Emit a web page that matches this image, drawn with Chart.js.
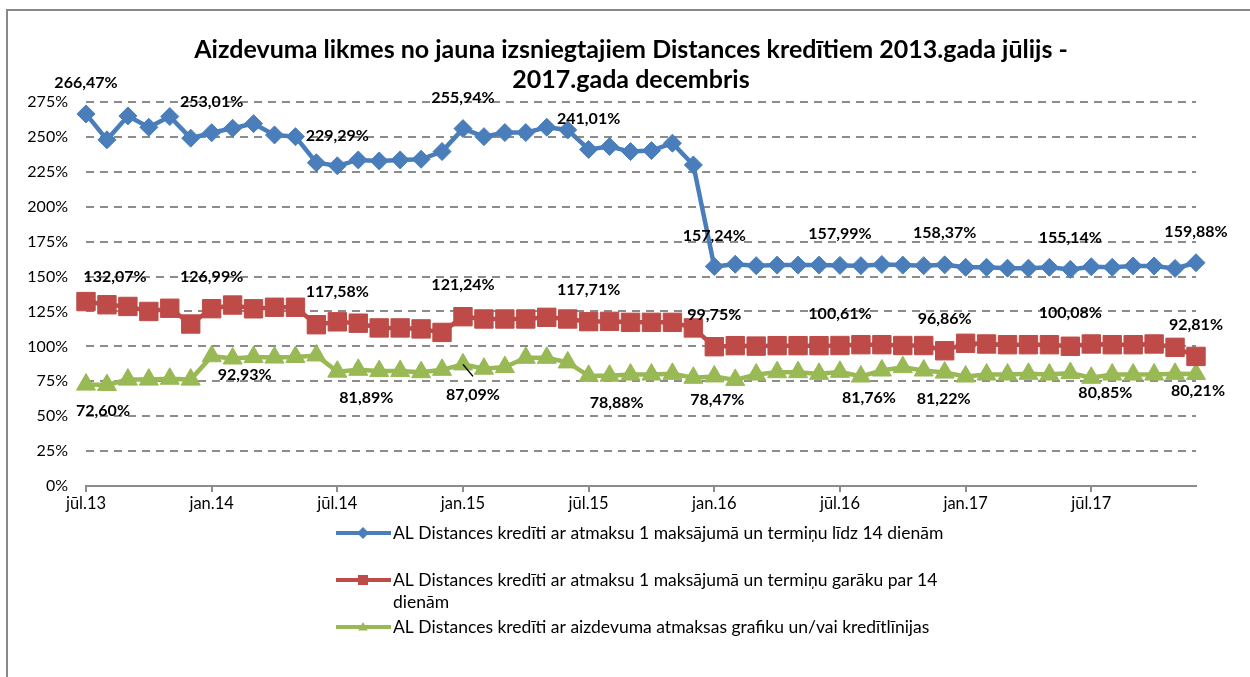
<!DOCTYPE html>
<html>
<head>
<meta charset="utf-8">
<title>Aizdevuma likmes</title>
<script src="https://cdn.jsdelivr.net/npm/chart.js@4.4.1/dist/chart.umd.min.js"></script>
<style>
    html, body { margin: 0; padding: 0; background: #fff; }
    #wrap { width: 1250px; height: 677px; }
</style>
</head>
<body>
<div id="wrap"><canvas id="rateChart" width="1250" height="677"></canvas></div>
<script>
// Months Jul 2013 - Dec 2017
const months = [
    'jūl.13', 'aug.13', 'sep.13', 'okt.13', 'nov.13', 'dec.13',
    'jan.14', 'feb.14', 'mar.14', 'apr.14', 'mai.14', 'jūn.14',
    'jūl.14', 'aug.14', 'sep.14', 'okt.14', 'nov.14', 'dec.14',
    'jan.15', 'feb.15', 'mar.15', 'apr.15', 'mai.15', 'jūn.15',
    'jūl.15', 'aug.15', 'sep.15', 'okt.15', 'nov.15', 'dec.15',
    'jan.16', 'feb.16', 'mar.16', 'apr.16', 'mai.16', 'jūn.16',
    'jūl.16', 'aug.16', 'sep.16', 'okt.16', 'nov.16', 'dec.16',
    'jan.17', 'feb.17', 'mar.17', 'apr.17', 'mai.17', 'jūn.17',
    'jūl.17', 'aug.17', 'sep.17', 'okt.17', 'nov.17', 'dec.17'
];

// Rates, %
const shortTerm = [
    266.47, 247.9, 265.0, 256.9, 264.6, 249.1,
    253.01, 256.2, 259.5, 251.4, 250.2, 231.5,
    229.29, 233.5, 232.8, 233.5, 234.0, 239.5,
    255.94, 250.2, 253.1, 253.1, 256.9, 255.0,
    241.01, 243.1, 239.5, 240.2, 245.5, 229.9,
    157.24, 158.8, 157.8, 158.2, 158.2, 158.2,
    157.99, 157.8, 158.6, 158.2, 157.8, 158.37,
    156.6, 156.6, 156.0, 156.0, 156.6, 155.14,
    157.0, 156.6, 157.6, 157.6, 155.8, 159.88
];
const longTerm = [
    132.07, 129.8, 128.6, 125.0, 127.3, 116.0,
    126.99, 129.6, 126.9, 128.0, 128.0, 115.5,
    117.58, 116.6, 113.2, 113.2, 112.5, 110.0,
    121.24, 119.6, 119.6, 119.6, 120.8, 119.6,
    117.71, 117.9, 117.2, 117.2, 117.2, 113.2,
    99.75, 100.5, 100.2, 100.5, 100.5, 100.5,
    100.61, 101.2, 101.2, 100.6, 100.6, 96.86,
    102.2, 101.7, 101.2, 101.2, 101.2, 100.08,
    101.7, 101.2, 101.2, 101.7, 99.3, 92.81
];
const instalment = [
    72.60, 72.3, 76.2, 76.2, 76.8, 76.2,
    92.93, 91.3, 92.4, 92.0, 92.4, 93.5,
    81.89, 83.2, 82.3, 82.3, 81.5, 83.2,
    87.09, 84.0, 85.2, 91.8, 91.8, 88.5,
    78.88, 79.0, 79.8, 79.8, 80.3, 77.5,
    78.47, 76.0, 79.8, 81.5, 81.5, 80.3,
    81.76, 78.4, 82.7, 85.1, 82.7, 81.22,
    78.4, 79.8, 79.8, 80.3, 79.8, 80.85,
    77.5, 79.8, 79.8, 79.8, 80.3, 80.21
];

const seriesNames = [
    'AL Distances kredīti ar atmaksu 1 maksājumā un termiņu līdz 14 dienām',
    'AL Distances kredīti ar atmaksu 1 maksājumā un termiņu garāku par 14 dienām',
    'AL Distances kredīti ar aizdevuma atmaksas grafiku un/vai kredītlīnijas'
];
const chartTitle = [
    'Aizdevuma likmes no jauna izsniegtajiem Distances kredītiem 2013.gada jūlijs -',
    '2017.gada decembris'
];
const yMax = 275;
const yStep = 25;

const FONT = 'Lato, Carlito, "Open Sans", sans-serif';
const colors = ['#4A7EBB', '#BE4B48', '#98B954'];
const markers = ['rectRot', 'rect', 'triangle'];

// which points carry a value label: [index, dx, dy, leader line]
const labelSpots = [
    [[0, 0, -31], [6, 0, -31], [12, 0, -30], [18, 0, -31], [24, 0, -31],
     [30, 0, -31], [36, 0, -32], [41, 0, -32], [47, 0, -32], [53, 0, -31]],
    [[0, 29, -25], [6, 0, -32], [12, 0, -30], [18, 0, -32], [24, 0, -32],
     [30, 0, -32], [36, 0, -32], [41, 0, -32], [47, 0, -33], [53, 0, -32]],
    [[0, 17, 26], [6, 33, 19], [12, 29, 26], [18, 10, 30, true], [24, 28, 27],
     [30, 3, 23], [36, 29, 26], [41, -1, 26], [47, 35, 20], [53, 2, 17]]
];

// legend text as it wraps in the original
const legendLines = [
    [seriesNames[0]],
    ['AL Distances kredīti ar atmaksu 1 maksājumā un termiņu garāku par 14', 'dienām'],
    [seriesNames[2]]
];

function formatPct(v) {
    return v.toFixed(2).replace('.', ',') + '%';
}

function drawMarker(ctx, type, x, y, r) {
    ctx.beginPath();
    if (type === 'rectRot') {
        ctx.moveTo(x - r, y); ctx.lineTo(x, y - r); ctx.lineTo(x + r, y); ctx.lineTo(x, y + r);
    } else if (type === 'rect') {
        ctx.rect(x - r, y - r, 2 * r, 2 * r);
    } else {
        ctx.moveTo(x, y - r); ctx.lineTo(x + r * 0.95, y + r * 0.7); ctx.lineTo(x - r * 0.95, y + r * 0.7);
    }
    ctx.closePath();
    ctx.fill();
}

const frameAndText = {
    id: 'frameAndText',
    beforeDraw(chart) {
        const ctx = chart.ctx;
        ctx.save();
        ctx.fillStyle = '#fff';
        ctx.fillRect(0, 0, chart.width, chart.height);
        ctx.strokeStyle = '#888';
        ctx.lineWidth = 2;
        ctx.strokeRect(7, 10, chart.width + 20, chart.height + 20);
        ctx.restore();
    },
    afterDatasetsDraw(chart) {
        const ctx = chart.ctx;
        ctx.save();
        ctx.font = 'bold 16px ' + FONT;
        ctx.fillStyle = '#000';
        ctx.textAlign = 'center';
        ctx.textBaseline = 'middle';
        labelSpots.forEach((spots, d) => {
            const meta = chart.getDatasetMeta(d);
            const values = chart.data.datasets[d].data;
            spots.forEach(([i, dx, dy, leader]) => {
                const p = meta.data[i];
                if (leader) {
                    ctx.strokeStyle = '#000';
                    ctx.lineWidth = 1.5;
                    ctx.beginPath();
                    ctx.moveTo(p.x, p.y);
                    ctx.lineTo(p.x + dx, p.y + dy - 18);
                    ctx.stroke();
                }
                ctx.fillText(formatPct(values[i]), p.x + dx, p.y + dy);
            });
        });
        ctx.restore();
    },
    afterDraw(chart) {
        const ctx = chart.ctx;
        ctx.save();
        // title
        ctx.fillStyle = '#000';
        ctx.textAlign = 'center';
        ctx.textBaseline = 'middle';
        ctx.font = 'bold 25px ' + FONT;
        ctx.fillText(chartTitle[0], 631, 50);
        ctx.fillText(chartTitle[1], 631, 80);

        // legend
        const rowY = [533, 580, 627];
        ctx.font = '17.5px ' + FONT;
        ctx.textAlign = 'left';
        legendLines.forEach((lines, k) => {
            const y = rowY[k];
            ctx.strokeStyle = colors[k];
            ctx.lineWidth = 4;
            ctx.beginPath();
            ctx.moveTo(336, y);
            ctx.lineTo(391, y);
            ctx.stroke();
            ctx.fillStyle = colors[k];
            drawMarker(ctx, markers[k], 363, y, k === 0 ? 6 : 5);
            ctx.fillStyle = '#000';
            lines.forEach((t, j) => ctx.fillText(t, 393, y + j * 22));
        });
        ctx.restore();
    }
};

function makeDataset(k, values, radius) {
    return {
        label: seriesNames[k],
        data: values,
        borderColor: colors[k],
        backgroundColor: colors[k],
        borderWidth: 4.5,
        pointStyle: markers[k],
        pointRadius: radius,
        pointBorderWidth: 1,
        pointBackgroundColor: colors[k],
        pointBorderColor: colors[k],
        tension: 0,
        clip: false
    };
}

function buildChart() {
    const ctx = document.getElementById('rateChart').getContext('2d');
    new Chart(ctx, {
        type: 'line',
        data: {
            labels: months,
            datasets: [
                makeDataset(0, shortTerm, 9),
                makeDataset(1, longTerm, 13),
                makeDataset(2, instalment, 11)
            ]
        },
        options: {
            responsive: false,
            animation: false,
            layout: { padding: { top: 102, right: 54, left: 0, bottom: 0 } },
            plugins: {
                legend: { display: false },
                title: { display: false },
                tooltip: { enabled: false }
            },
            scales: {
                x: {
                    offset: false,
                    grid: {
                        drawOnChartArea: false,
                        drawTicks: true,
                        tickLength: 6,
                        color: '#8c8c8c',
                        lineWidth: 2
                    },
                    border: { display: true, color: '#8c8c8c', width: 2 },
                    ticks: {
                        autoSkip: false,
                        maxRotation: 0,
                        minRotation: 0,
                        padding: 2,
                        color: '#000',
                        font: { family: FONT, size: 16.5 },
                        callback: function (value, index) {
                            return index % 6 === 0 ? this.getLabelForValue(value) : null;
                        }
                    },
                    afterFit: scale => { scale.height = 191; }
                },
                y: {
                    min: 0,
                    max: yMax,
                    grid: { color: '#8c8c8c', lineWidth: 2, drawTicks: false },
                    border: { display: false, dash: [8, 6] },
                    ticks: {
                        stepSize: yStep,
                        padding: 18,
                        color: '#000',
                        font: { family: FONT, size: 16 },
                        callback: value => value + '%'
                    },
                    afterFit: scale => { scale.width = 86; }
                }
            }
        },
        plugins: [frameAndText]
    });
}

if (document.fonts && document.fonts.load) {
    Promise.all([
        document.fonts.load('16px Lato'),
        document.fonts.load('bold 16px Lato')
    ]).then(buildChart, buildChart);
} else {
    buildChart();
}
</script>
</body>
</html>
